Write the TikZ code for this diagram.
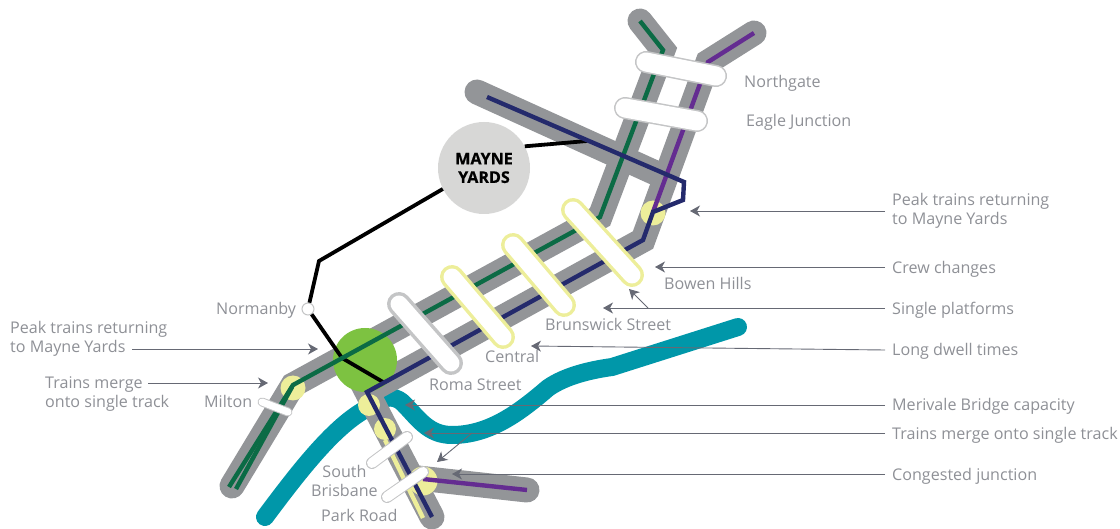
\documentclass[tikz,border=0pt]{standalone}
\usepackage{fontspec,xcolor}
\usetikzlibrary{arrows.meta}
\setmainfont{Open Sans}
\newfontfamily\dick[BoldFeatures={FakeBold=0.6}]{Open Sans}
\definecolor{gleis}{HTML}{939598}
\definecolor{schrift}{HTML}{8E9096}
\definecolor{zeiger}{HTML}{666974}
\definecolor{flussfarbe}{HTML}{0097A9}
\definecolor{gruen}{HTML}{0B6B45}
\definecolor{navy}{HTML}{242A6C}
\definecolor{lila}{HTML}{642C91}
\definecolor{gelb}{HTML}{EDEE9A}
\definecolor{hellgruen}{HTML}{7DC241}
\definecolor{depot}{HTML}{D7D7D6}
\definecolor{rand}{HTML}{C4C5C6}
\newcommand{\lbl}{\fontsize{16.1}{19}\selectfont}
\tikzset{gleisband/.style={gleis,line width=25pt,line cap=round,miter limit=10},
  linie/.style={line width=4.4pt,line join=miter,miter limit=10},
  fluss/.style={flussfarbe,line width=18pt,line cap=round},
  halt/.style={fill=gelb,draw=none,circle,inner sep=0},
  pille/.style={line cap=round,draw=rand,double=white,line width=1.5pt,double distance=19pt},
  gelbpille/.style={line cap=round,draw=gelb,double=white,line width=3.5pt,double distance=17pt},
  graupille/.style={line cap=round,draw=rand,double=white,line width=3.5pt,double distance=17pt},
  kleinpille/.style={line cap=round,draw=rand,double=white,line width=1pt,double distance=10pt},
  ortsname/.style={anchor=west,inner sep=0,text=schrift,font=\lbl,align=left},
  ziel/.style={anchor=west,inner ysep=0,inner xsep=7pt,text=schrift,font=\lbl,align=left},
  pfeil/.style={zeiger,line width=0.9pt,-{Stealth[length=10pt,width=11pt,inset=3pt]}}}
\begin{document}
\begin{tikzpicture}[x=1pt,y=-1pt]
\useasboundingbox (0,0) rectangle (1120,529);
\draw[fluss] (265,517) .. controls (300,470) and (335,425) .. (368,408) .. controls (382,398) and (392,393) .. (403,403) .. controls (418,418) and (428,435) .. (452,435) .. controls (490,435) and (520,412) .. (548,388) .. controls (565,376) and (590,370) .. (612,367) -- (738,327);
\draw[gleisband] (640,21) -- (663,50) -- (600,217) -- (293,385) -- (232,486);
\draw[gleisband] (754,33) -- (708,62) -- (643,240) -- (367,392) -- (432,517);
\draw[gleisband] (477,92) -- (660,175);
\draw[gleisband] (418,478) -- (527,490);
\node[halt,minimum size=25pt] (milton) at (293,388) {};
\node[halt,minimum size=22pt] (haltA) at (369,405) {};
\node[halt,minimum size=22pt] (haltB) at (385,429) {};
\node[halt,minimum size=29pt] (haltC) at (423,481) {};
\node[halt,minimum size=25pt] (haltD) at (653,213) {};
\node[circle,fill=hellgruen,inner sep=0,minimum size=64pt] (roma) at (365,360) {};
\node[circle,fill=depot,inner sep=0,minimum size=92pt,font=\lbl\dick\bfseries,align=center,text=black] (mayne) at (484,168) {MAYNE\\[-0.5pt]YARDS};
\node[circle,draw=rand,fill=white,line width=1pt,inner sep=0,minimum size=12pt] (normanby) at (308,309) {};
\coordinate (einfahrt) at (587,141);
\coordinate (knickA) at (319,261);
\coordinate (knickB) at (342,358);
\coordinate (romaEnde) at (383,382);
\draw[line width=3.8pt] (mayne.28) -- (einfahrt);
\draw[line width=3.8pt] (mayne.207) -- (knickA) -- (normanby);
\draw[line width=3.8pt] (normanby) -- (knickB) -- (romaEnde);
\draw[gelb,linie] (385,440) -- (423,518);
\draw[gruen,linie] (640,21) -- (663,50) -- (600,217) -- (293,385) -- (229,487);
\draw[gruen,linie] (292,387) -- (236,489);
\draw[lila,linie] (754,33) -- (708,62) -- (653,212);
\draw[lila,linie] (423,479) -- (527,490);
\draw[navy,linie] (487,97) -- (684,182) -- (683,200) -- (653,212) -- (643,240) -- (367,392) -- (432,517);
\draw[pille] (646,62) -- (716,76);
\draw[pille] (625,108) -- (697,121);
\draw[gelbpille] (573,210) -- (632,275);
\draw[gelbpille] (513,245) -- (564,305);
\draw[gelbpille] (452,277) -- (503,337);
\draw[graupille] (399,304) -- (451,363);
\draw[line cap=round,draw=rand,double=white,line width=1pt,double distance=7pt] (262,402) -- (288,412);
\draw[kleinpille] (372,463) -- (407,437);
\draw[kleinpille] (387,497) -- (423,472);
\node[ortsname] (northgate) at (744,83) {Northgate};
\node[ortsname] (eagle) at (746,122) {Eagle Junction};
\node[ortsname] (bowen) at (664,283.5) {Bowen Hills};
\node[ortsname] (brunswick) at (545,324.5) {Brunswick Street};
\node[ortsname] (central) at (485,356.5) {Central};
\node[ortsname] (romast) at (429,384.5) {Roma Street};
\node[ortsname] (miltonlbl) at (204,401.5) {Milton};
\node[ortsname,align=center] (south) at (311,481) {South\\Brisbane};
\node[ortsname] (park) at (321,515.5) {Park Road};
\node[ortsname] (normanbylbl) at (216,310) {Normanby};
\node[ortsname] (peaklinks) at (10,339) {Peak trains returning\\to Mayne Yards};
\node[ortsname] (mergelinks) at (45,394) {Trains merge\\onto single track};
\node[ziel] (peakrechts) at (885,211) {Peak trains returning\\to Mayne Yards};
\node[ziel] (crew) at (885,269) {Crew changes};
\node[ziel] (single) at (885,310) {Single platforms};
\node[ziel] (dwell) at (885,351) {Long dwell times};
\node[ziel] (merivale) at (885,406) {Merivale Bridge capacity};
\node[ziel] (merge) at (885,435) {Trains merge onto single track};
\node[ziel] (congested) at (885,476) {Congested junction};
\coordinate (peakrechtsZiel) at (690,211);
\coordinate (crewZiel) at (655,267);
\coordinate (singleZiel) at (603,308);
\coordinate (singleAb) at (648,308);
\coordinate (singleZielB) at (629,289);
\coordinate (dwellZiel) at (531,346);
\coordinate (merivaleZiel) at (405,405);
\coordinate (mergeZiel) at (424,433);
\coordinate (mergeAb) at (472,433);
\coordinate (mergeZielB) at (437,462);
\coordinate (congestedZiel) at (452,474);
\coordinate (peaklinksStart) at (132,349);
\coordinate (peaklinksZiel) at (318,349);
\coordinate (mergelinksStart) at (148,383);
\coordinate (mergelinksZiel) at (268,383);
\draw[pfeil] (peakrechts.west) -- (peakrechtsZiel);
\draw[pfeil] ([yshift=2pt]crew.west) -- (crewZiel);
\draw[pfeil] ([yshift=2pt]single.west) -- (singleZiel);
\draw[pfeil] (singleAb) -- (singleZielB);
\draw[pfeil] ([yshift=1pt]dwell.west) -- (dwellZiel);
\draw[pfeil] ([yshift=1pt]merivale.west) -- (merivaleZiel);
\draw[pfeil] ([yshift=2pt]merge.west) -- (mergeZiel);
\draw[pfeil] (mergeAb) -- (mergeZielB);
\draw[pfeil] ([yshift=2pt]congested.west) -- (congestedZiel);
\draw[pfeil] (peaklinksStart) -- (peaklinksZiel);
\draw[pfeil] (mergelinksStart) -- (mergelinksZiel);
\end{tikzpicture}
\end{document}
